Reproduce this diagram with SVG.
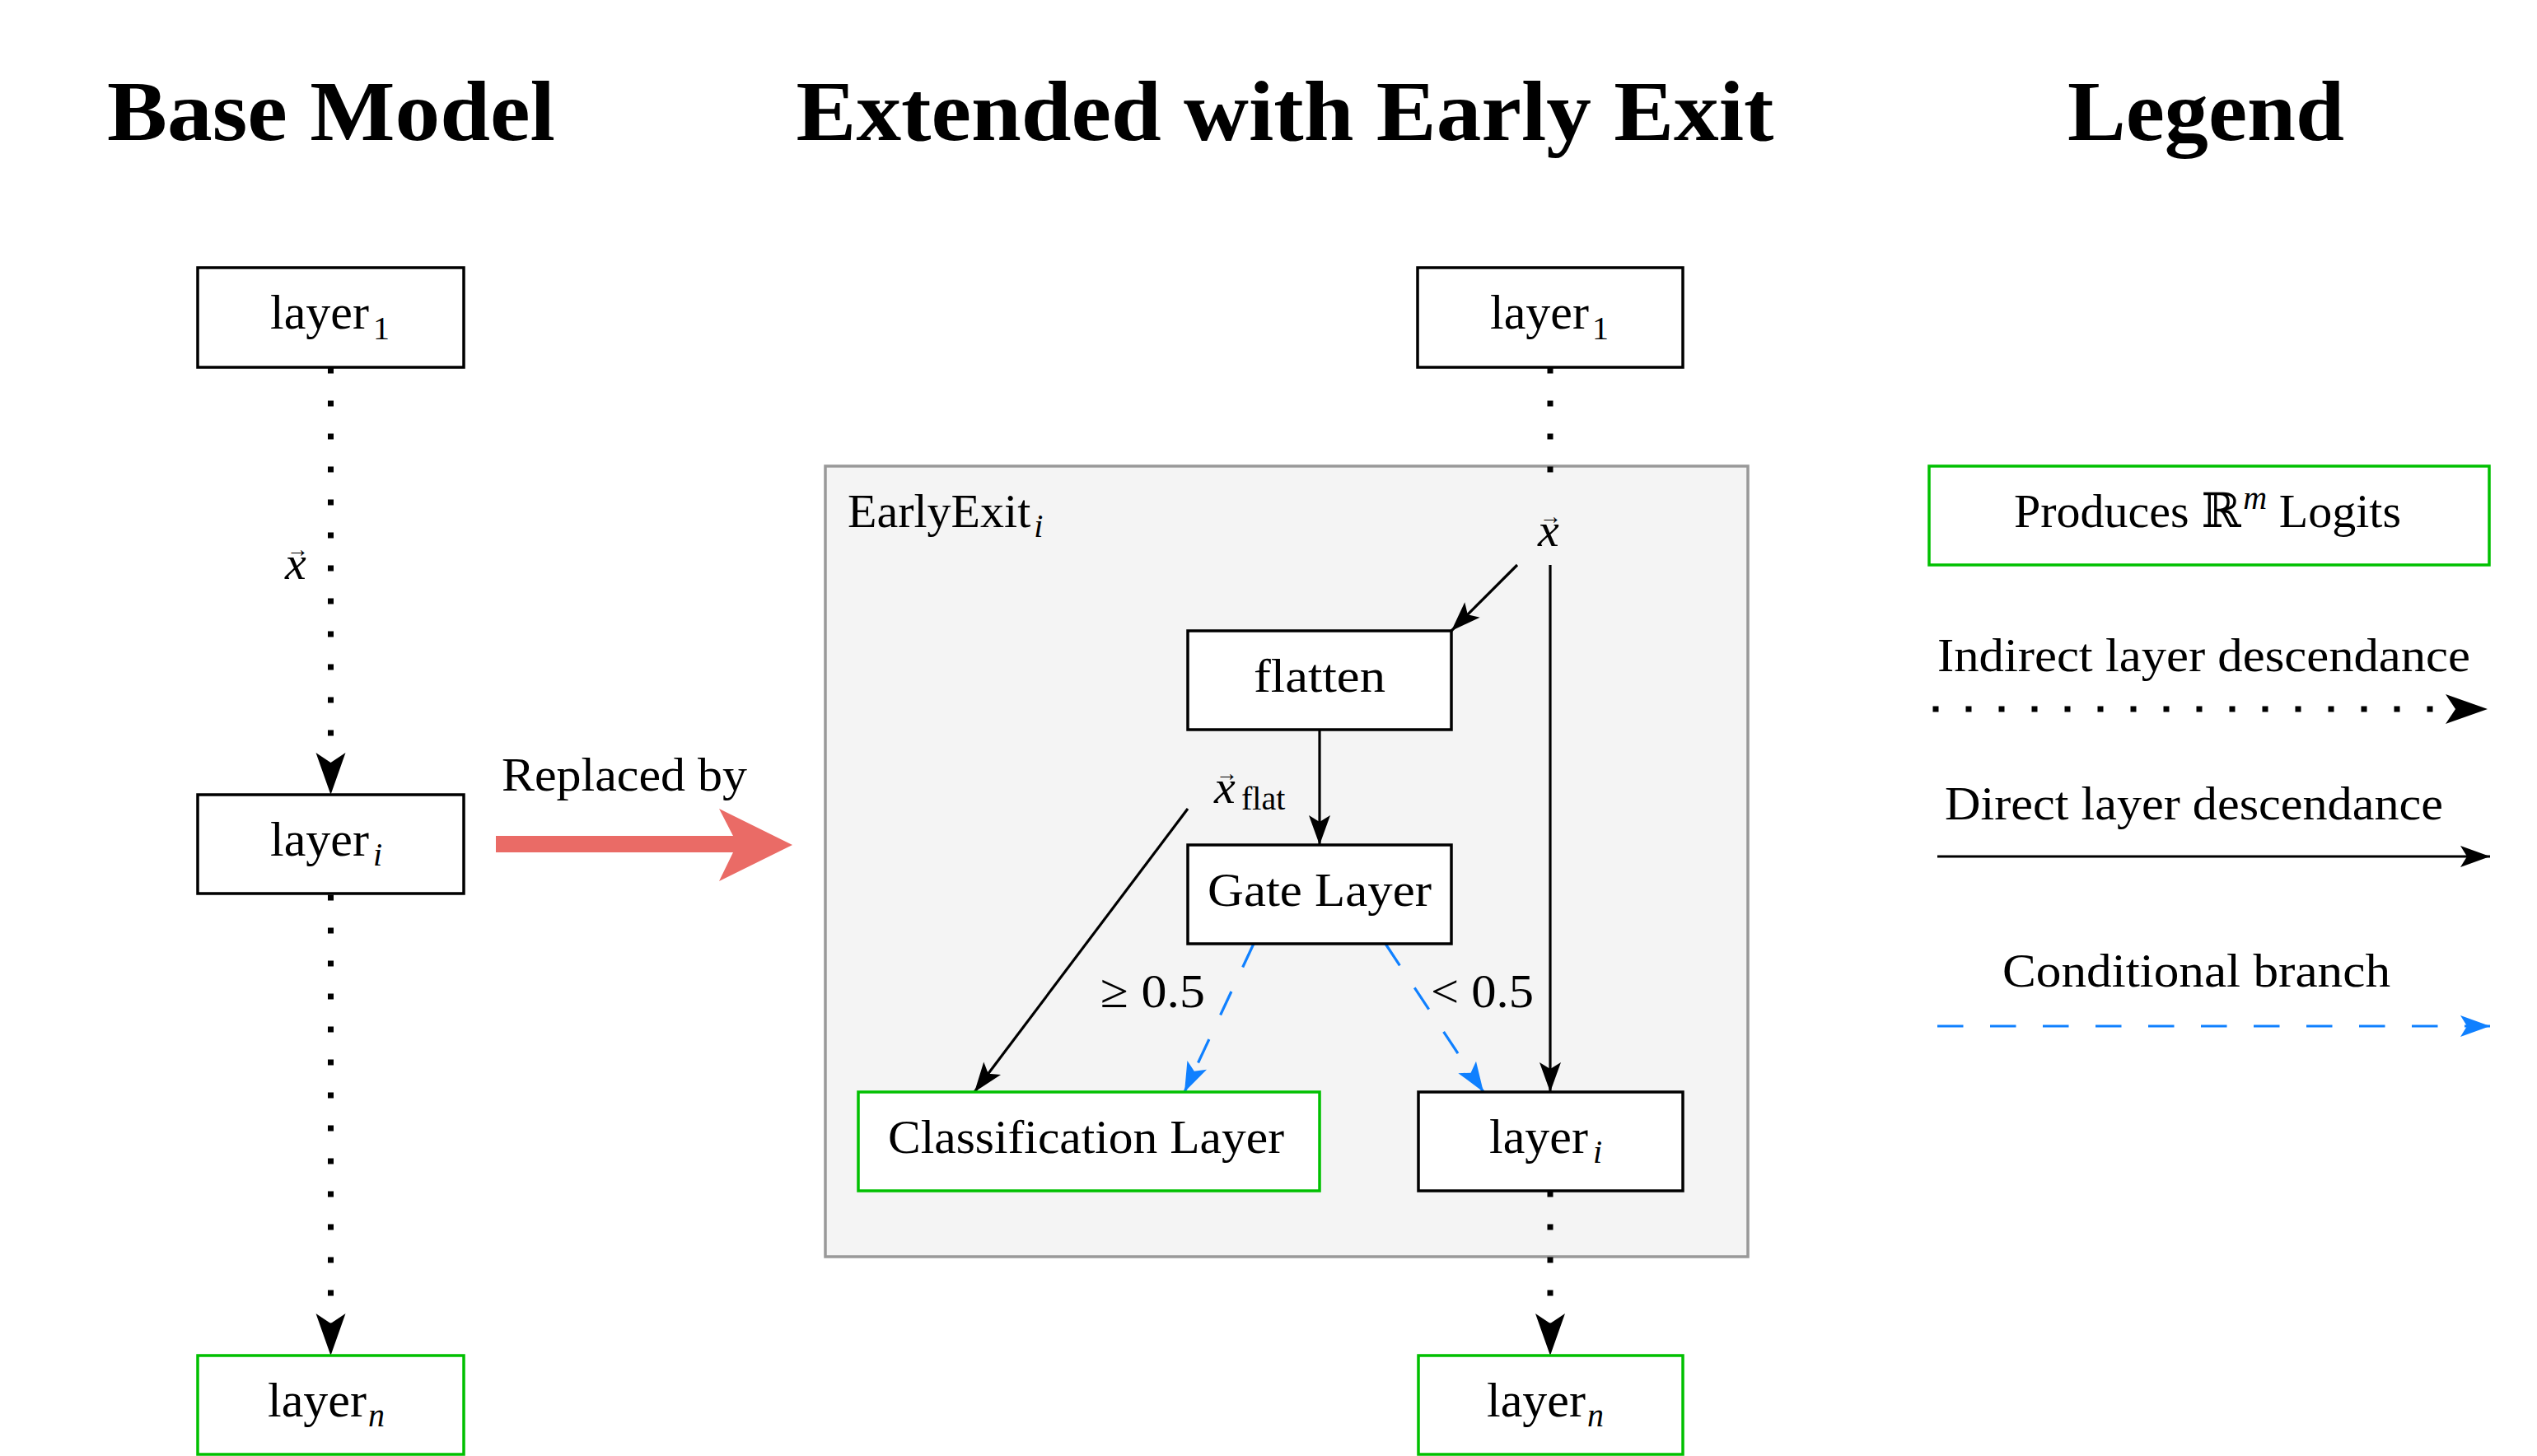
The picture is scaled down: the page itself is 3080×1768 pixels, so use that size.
<svg xmlns="http://www.w3.org/2000/svg" width="3080" height="1768" viewBox="0 0 3080 1768">
<defs>
<style>
text{font-family:'Liberation Serif','DejaVu Serif',serif;fill:#000}
.title{font-size:104px;font-weight:bold}
.lbl{font-size:58px}
.ly{font-size:60px}
.sub{font-size:40px}
.it{font-style:italic}
.vec{font-size:27px;font-style:normal}
.up{font-style:normal}
.box{fill:#fff;stroke:#000;stroke-width:3.5}
.gbox{fill:#fff;stroke:#00c000;stroke-width:3.5}
.solid{fill:none;stroke:#000;stroke-width:3.2}
.dot{fill:none;stroke:#000;stroke-width:7;stroke-dasharray:7 33}
.dash{fill:none;stroke:#0f80ff;stroke-width:3.2;stroke-dasharray:31.5 32.5}
</style>
<marker id="big" markerUnits="userSpaceOnUse" orient="auto" viewBox="-55 -20 60 40" markerWidth="60" markerHeight="40" refX="0" refY="0"><path d="M0,0 L-51,-18 L-39,0 L-51,18 Z" fill="#000"/></marker>
<marker id="sm" markerUnits="userSpaceOnUse" orient="auto" viewBox="-40 -15 44 30" markerWidth="44" markerHeight="30" refX="0" refY="0"><path d="M0,0 L-36,-13 L-28,0 L-36,13 Z" fill="#000"/></marker>
<marker id="smb" markerUnits="userSpaceOnUse" orient="auto" viewBox="-40 -15 44 30" markerWidth="44" markerHeight="30" refX="0" refY="0"><path d="M0,0 L-36,-13 L-28,0 L-36,13 Z" fill="#0f80ff"/></marker>
</defs>
<rect width="3080" height="1768" fill="#fff"/>

<g id="titles">
<text class="title" x="402" y="170" text-anchor="middle" textLength="544" lengthAdjust="spacingAndGlyphs">Base Model</text>
<text class="title" x="1560" y="170" text-anchor="middle" textLength="1187" lengthAdjust="spacingAndGlyphs">Extended with Early Exit</text>
<text class="title" x="2678" y="170" text-anchor="middle" textLength="336" lengthAdjust="spacingAndGlyphs">Legend</text>
</g>

<g id="earlyexit">
<rect x="1002" y="566" width="1120" height="960" fill="#f4f4f4" stroke="#999" stroke-width="3.5"/>
<text class="lbl" x="1029" y="640">EarlyExit<tspan class="sub it" dx="4" dy="12">i</tspan></text>
</g>

<g id="connectors">
<path class="dot" d="M401.5,446.5 V965" marker-end="url(#big)"/>
<path class="dot" d="M401.5,1086.5 V1646" marker-end="url(#big)"/>
<path class="dot" d="M1882,446.5 V600"/>
<path class="solid" d="M1842,686 L1762,766" marker-end="url(#sm)"/>
<path class="solid" d="M1882,686 V1326" marker-end="url(#sm)"/>
<path class="solid" d="M1602,886 V1026" marker-end="url(#sm)"/>
<path class="solid" d="M1442,982 L1183,1326" marker-end="url(#sm)"/>
<path class="dash" d="M1522,1146 L1438,1326" marker-end="url(#smb)"/>
<path class="dash" d="M1682,1146 L1801,1326" marker-end="url(#smb)"/>
<path class="dot" d="M1882,1446.5 V1646" marker-end="url(#big)"/>
<path d="M602,1015 H890 L873,982 L962,1026 L873,1070 L890,1035 H602 Z" fill="#ea6b66"/>
<text class="lbl" x="609" y="960" textLength="298" lengthAdjust="spacingAndGlyphs">Replaced by</text>
<text class="lbl" x="1336" y="1223" textLength="127" lengthAdjust="spacingAndGlyphs">≥ 0.5</text>
<text class="lbl" x="1737" y="1223" textLength="125" lengthAdjust="spacingAndGlyphs">&lt; 0.5</text>
</g>

<g id="base-x">
<text class="lbl it" x="346" y="703">x<tspan class="vec" dx="-24" dy="-27">→</tspan></text>
</g>
<g id="ee-x">
<text class="lbl it" x="1867" y="663">x<tspan class="vec" dx="-24" dy="-27">→</tspan></text>
</g>
<g id="xflat">
<text class="lbl it" x="1474" y="975">x<tspan class="vec" dx="-24" dy="-27">→</tspan><tspan class="sub up" x="1507" dy="35">flat</tspan></text>
</g>

<g id="base-layer1">
<rect class="box" x="240" y="325" width="323" height="121"/>
<text class="ly" x="328" y="399">layer<tspan class="sub" dx="5" dy="13">1</tspan></text>
</g>
<g id="base-layeri">
<rect class="box" x="240" y="965" width="323" height="120"/>
<text class="ly" x="328" y="1039">layer<tspan class="sub it" dx="5" dy="12">i</tspan></text>
</g>
<g id="base-layern">
<rect class="gbox" x="240" y="1646" width="323" height="120"/>
<text class="ly" x="325" y="1720">layer<tspan class="sub it" dx="2" dy="12">n</tspan></text>
</g>

<g id="ee-layer1">
<rect class="box" x="1721" y="325" width="322" height="121"/>
<text class="ly" x="1809" y="399">layer<tspan class="sub" dx="4" dy="13">1</tspan></text>
</g>
<g id="flatten">
<rect class="box" x="1442" y="766" width="320" height="120"/>
<text class="lbl" x="1602" y="840" text-anchor="middle" textLength="160" lengthAdjust="spacingAndGlyphs">flatten</text>
</g>
<g id="gate">
<rect class="box" x="1442" y="1026" width="320" height="120"/>
<text class="lbl" x="1602" y="1100" text-anchor="middle" textLength="272" lengthAdjust="spacingAndGlyphs">Gate Layer</text>
</g>
<g id="classification">
<rect class="gbox" x="1042" y="1326" width="560" height="120"/>
<text class="lbl" x="1078" y="1400" textLength="481" lengthAdjust="spacingAndGlyphs">Classification Layer</text>
</g>
<g id="ee-layeri">
<rect class="box" x="1722" y="1326" width="321" height="120"/>
<text class="ly" x="1808" y="1400">layer<tspan class="sub it" dx="6" dy="12">i</tspan></text>
</g>
<g id="ee-layern">
<rect class="gbox" x="1722" y="1646" width="321" height="120"/>
<text class="ly" x="1805" y="1720">layer<tspan class="sub it" dx="2" dy="12">n</tspan></text>
</g>

<g id="legend">
<g id="legend-logits">
<rect class="gbox" x="2342" y="566" width="680" height="120"/>
<text class="lbl" x="2680" y="640" text-anchor="middle">Produces <tspan style="font-family:'DejaVu Serif','DejaVu Sans',serif">ℝ</tspan><tspan class="sub it" dx="3" dy="-22">m</tspan><tspan dy="22"> Logits</tspan></text>
</g>
<g id="legend-indirect">
<text class="lbl" x="2352" y="815" textLength="647" lengthAdjust="spacingAndGlyphs">Indirect layer descendance</text>
<path class="dot" d="M2346.5,861 H3020" marker-end="url(#big)"/>
</g>
<g id="legend-direct">
<text class="lbl" x="2361" y="995" textLength="605" lengthAdjust="spacingAndGlyphs">Direct layer descendance</text>
<path class="solid" d="M2352,1040 H3023" marker-end="url(#sm)"/>
</g>
<g id="legend-conditional">
<text class="lbl" x="2431" y="1198" textLength="471" lengthAdjust="spacingAndGlyphs">Conditional branch</text>
<path class="dash" d="M2352,1246 H3023" marker-end="url(#smb)"/>
</g>
</g>
</svg>
